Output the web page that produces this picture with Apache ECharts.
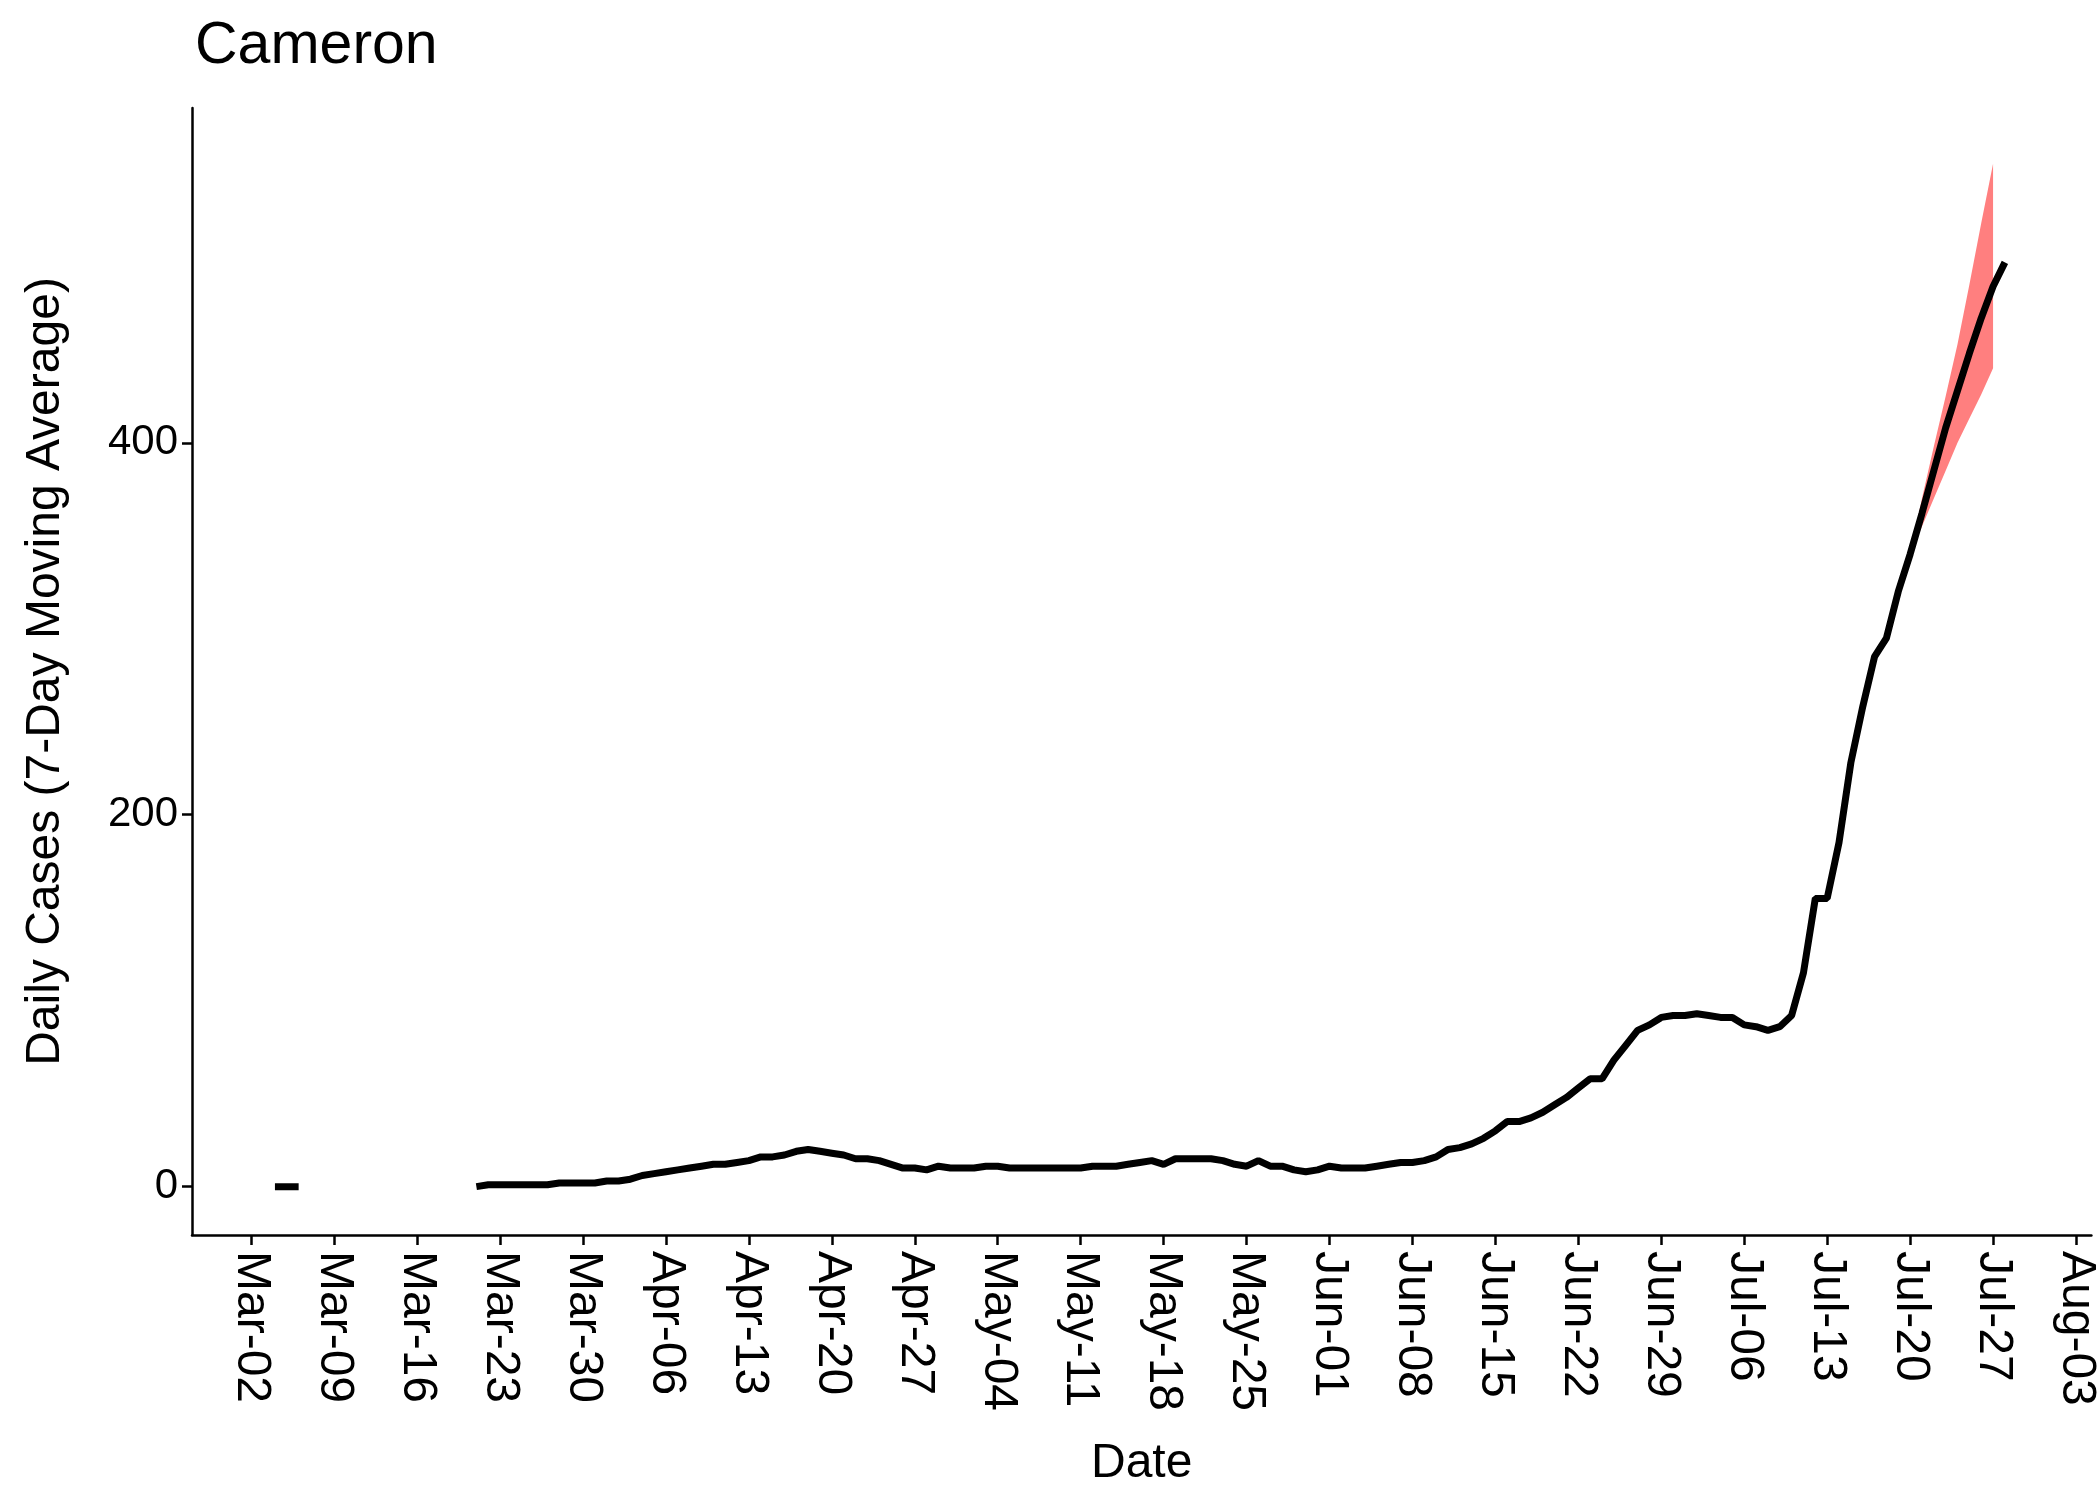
<!DOCTYPE html>
<html><head><meta charset="utf-8">
<script src="https://cdn.jsdelivr.net/npm/echarts@6/dist/echarts.min.js"></script>
<style>html,body{margin:0;padding:0;background:#fff}#c{width:2100px;height:1499px}</style>
</head><body><div id="c"></div>
<script>
// day index 0 = Mar-02
const startDate = '2020-03-02';
const earlyDays = [2, 4];
const earlyValues = [0, 0];
const mainStartDay = 19; // Mar-21
const mainValues = [
 0,1,1,1,1,1,1,2,2,2,2,3,
 3,4,6,7,8,9,10,11,12,12,
 13,14,16,16,17,19,20,19,18,17,
 15,15,14,12,10,10,9,11,10,10,
 10,11,11,10,10,10,10,10,10,10,
 11,11,11,12,13,14,12,15,15,15,
 15,14,12,11,14,11,11,9,8,9,
 11,10,10,10,11,12,13,13,14,16,
 20,21,23,26,30,35,35,37,40,44,
 48,53,58,58,68,76,84,87,91,92,
 92,93,92,91,91,87,86,84,86,92,
 115,155,155,185,228,258,285,295,320,340,
 362,385,408,428,448,467,484,497
];
const bandStartDay = 140;
const bandLower = [340,355,370,385,400,413,426,440];
const bandUpper = [340,370,398,425,453,485,518,550];
const xTicks = [0,7,14,21,28,35,42,49,56,63,70,77,84,91,98,105,112,119,126,133,140,147,154];
const yTicks = [0,200,400];

const months=['Jan','Feb','Mar','Apr','May','Jun','Jul','Aug','Sep','Oct','Nov','Dec'];
function dayLabel(d){const t=new Date(Date.parse(startDate+'T00:00:00Z')+d*86400000);
 return months[t.getUTCMonth()]+'-'+String(t.getUTCDate()).padStart(2,'0');}

const mainData = mainValues.map((v,i)=>[mainStartDay+i,v]);
const bandData = bandLower.map((v,i)=>[bandStartDay+i,v,bandUpper[i]]);
const earlyData = earlyDays.map((d,i)=>[d,earlyValues[i]]);

const chart = echarts.init(document.getElementById('c'));
const font = 'Liberation Sans, Arial, sans-serif';
chart.setOption({
 animation:false,
 title:{text:'Cameron',left:190,top:12,textStyle:{fontFamily:font,fontSize:59,fontWeight:'normal',color:'#000'}},
 grid:{left:192,right:8,top:108,bottom:264,containLabel:false},
 xAxis:{type:'value',min:-5,max:155.3,name:'Date',nameLocation:'middle',nameGap:205,
  nameTextStyle:{fontFamily:font,fontSize:48,color:'#000'},
  axisLine:{show:true,onZero:false,lineStyle:{color:'#000',width:2.5}},
  axisTick:{show:true,length:10,lineStyle:{color:'#000',width:2.5},customValues:xTicks},
  axisLabel:{rotate:-90,fontFamily:font,fontSize:48,color:'#000',margin:16,customValues:xTicks,formatter:v=>dayLabel(v)},
  splitLine:{show:false}},
 yAxis:{type:'value',min:-26,max:580,name:'Daily Cases (7-Day Moving Average)',nameLocation:'middle',nameGap:122,
  nameTextStyle:{fontFamily:font,fontSize:48,color:'#000'},
  axisLine:{show:true,onZero:false,lineStyle:{color:'#000',width:2.5}},
  axisTick:{show:true,length:10,lineStyle:{color:'#000',width:2.5},customValues:yTicks},
  axisLabel:{fontFamily:font,fontSize:42,color:'#000',margin:14,customValues:yTicks},
  splitLine:{show:false}},
 series:[
  {type:'custom',silent:true,data:bandData,encode:{x:0,y:[1,2]},
   renderItem:function(params,api){
     if(params.dataIndex!==0) return null;
     const up=[],lo=[];
     for(let i=0;i<bandData.length;i++){
       up.push(api.coord([bandData[i][0],bandData[i][2]]));
       lo.unshift(api.coord([bandData[i][0],bandData[i][1]]));
     }
     return {type:'polygon',shape:{points:up.concat(lo)},style:{fill:'#FF7F7F'}};
   }},
  {type:'line',data:earlyData,symbol:'none',lineStyle:{color:'#000',width:7}},
  {type:'line',data:mainData,symbol:'none',lineStyle:{color:'#000',width:7}}
 ]
});
</script></body></html>
